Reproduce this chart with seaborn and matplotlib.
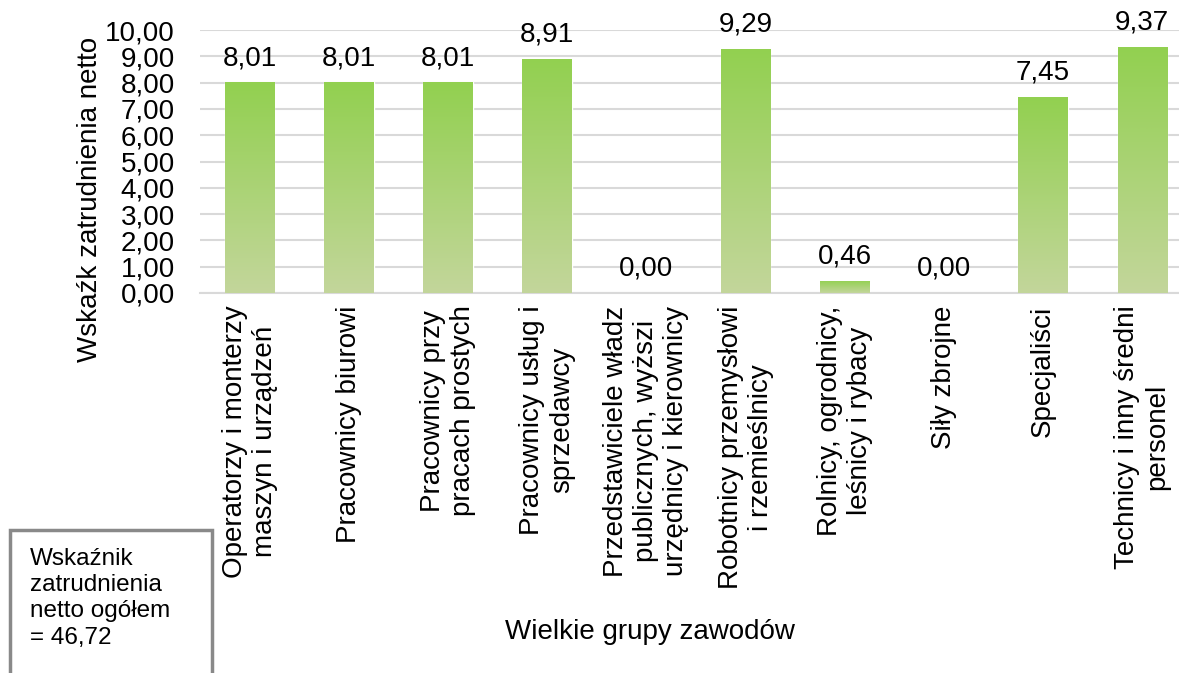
import numpy as np
import pandas as pd
import matplotlib
matplotlib.use("Agg")
import matplotlib.pyplot as plt
from matplotlib.colors import LinearSegmentedColormap
from matplotlib.patches import Rectangle
import seaborn as sns

categories = [
    "Operatorzy i monterzy\nmaszyn i urządzeń",
    "Pracownicy biurowi",
    "Pracownicy przy\npracach prostych",
    "Pracownicy usług i\nsprzedawcy",
    "Przedstawiciele władz\npublicznych, wyższi\nurzędnicy i kierownicy",
    "Robotnicy przemysłowi\ni rzemieślnicy",
    "Rolnicy, ogrodnicy,\nleśnicy i rybacy",
    "Siły zbrojne",
    "Specjaliści",
    "Technicy i inny średni\npersonel",
]
values = [8.01, 8.01, 8.01, 8.91, 0.00, 9.29, 0.46, 0.00, 7.45, 9.37]
yticks = [0, 1, 2, 3, 4, 5, 6, 7, 8, 9, 10]
ylabel = "Wskaźk zatrudnienia netto"
xlabel = "Wielkie grupy zawodów"
box_text = "Wskaźnik\nzatrudnienia\nnetto ogółem\n= 46,72"

def fmt(v):
    return f"{v:.2f}".replace(".", ",")

sns.set_style("white")
plt.rcParams["font.family"] = ["Liberation Sans", "DejaVu Sans"]
plt.rcParams["text.color"] = "black"
plt.rcParams["xtick.color"] = "black"
plt.rcParams["ytick.color"] = "black"

FS = 20

fig = plt.figure(figsize=(11.79, 6.73), dpi=100)
ax = fig.add_axes([200 / 1179, 1 - 293 / 673, 979 / 1179, 263 / 673])

df = pd.DataFrame({"cat": categories, "val": values})
sns.barplot(data=df, x="cat", y="val", ax=ax, color="#92D050", width=0.5,
            saturation=1, zorder=2)

cmap = LinearSegmentedColormap.from_list("g", ["#C3D69B", "#92D050"])
grad = np.linspace(0, 1, 256).reshape(-1, 1)
for bar, v in zip(ax.patches, values):
    x0, y0 = bar.get_x(), bar.get_y()
    w, h = bar.get_width(), bar.get_height()
    if h > 0:
        im = ax.imshow(grad, cmap=cmap, aspect="auto", origin="lower",
                       extent=[x0, x0 + w, y0, y0 + h], zorder=3)
        im.set_clip_path(bar)
    ax.annotate(fmt(v), (x0 + w / 2, y0 + h), xytext=(0, 8),
                textcoords="offset points", ha="center", va="bottom",
                fontsize=FS, color="black")

ax.set_ylim(0, 10)
ax.set_xlim(-0.5, 9.37)
ax.set_yticks(yticks)
ax.set_yticklabels([fmt(t) for t in yticks], fontsize=FS)
ax.yaxis.grid(True, color="#D9D9D9", linewidth=1.5, zorder=0)
ax.set_axisbelow(True)
for s in ["top", "right", "left"]:
    ax.spines[s].set_visible(False)
ax.spines["bottom"].set_color("#D9D9D9")
ax.spines["bottom"].set_linewidth(1.5)
ax.tick_params(axis="y", length=0, pad=18)
ax.tick_params(axis="x", length=0, pad=9)
ax.set_xticks(range(len(categories)))
ax.set_xticklabels(categories, rotation=90, fontsize=FS, ha="center",
                   va="top", multialignment="center")
ax.set_ylabel("")
ax.set_xlabel("")
fig.text(90 / 1179, 1 - 199 / 673, ylabel, fontsize=FS, rotation=90,
         ha="center", va="center")
fig.text(650 / 1179, 1 - 632 / 673, xlabel, fontsize=FS, ha="center", va="center")

fig.patches.append(Rectangle((10 / 1179, -0.05), 202 / 1179, 0.05 + 143 / 673,
                             transform=fig.transFigure, fill=False,
                             edgecolor="#898989", linewidth=2.5))
fig.text(30 / 1179, 1 - 548 / 673, box_text, fontsize=17.5, ha="left", va="top",
         linespacing=1.25)

fig.savefig("out.png", dpi=100)
